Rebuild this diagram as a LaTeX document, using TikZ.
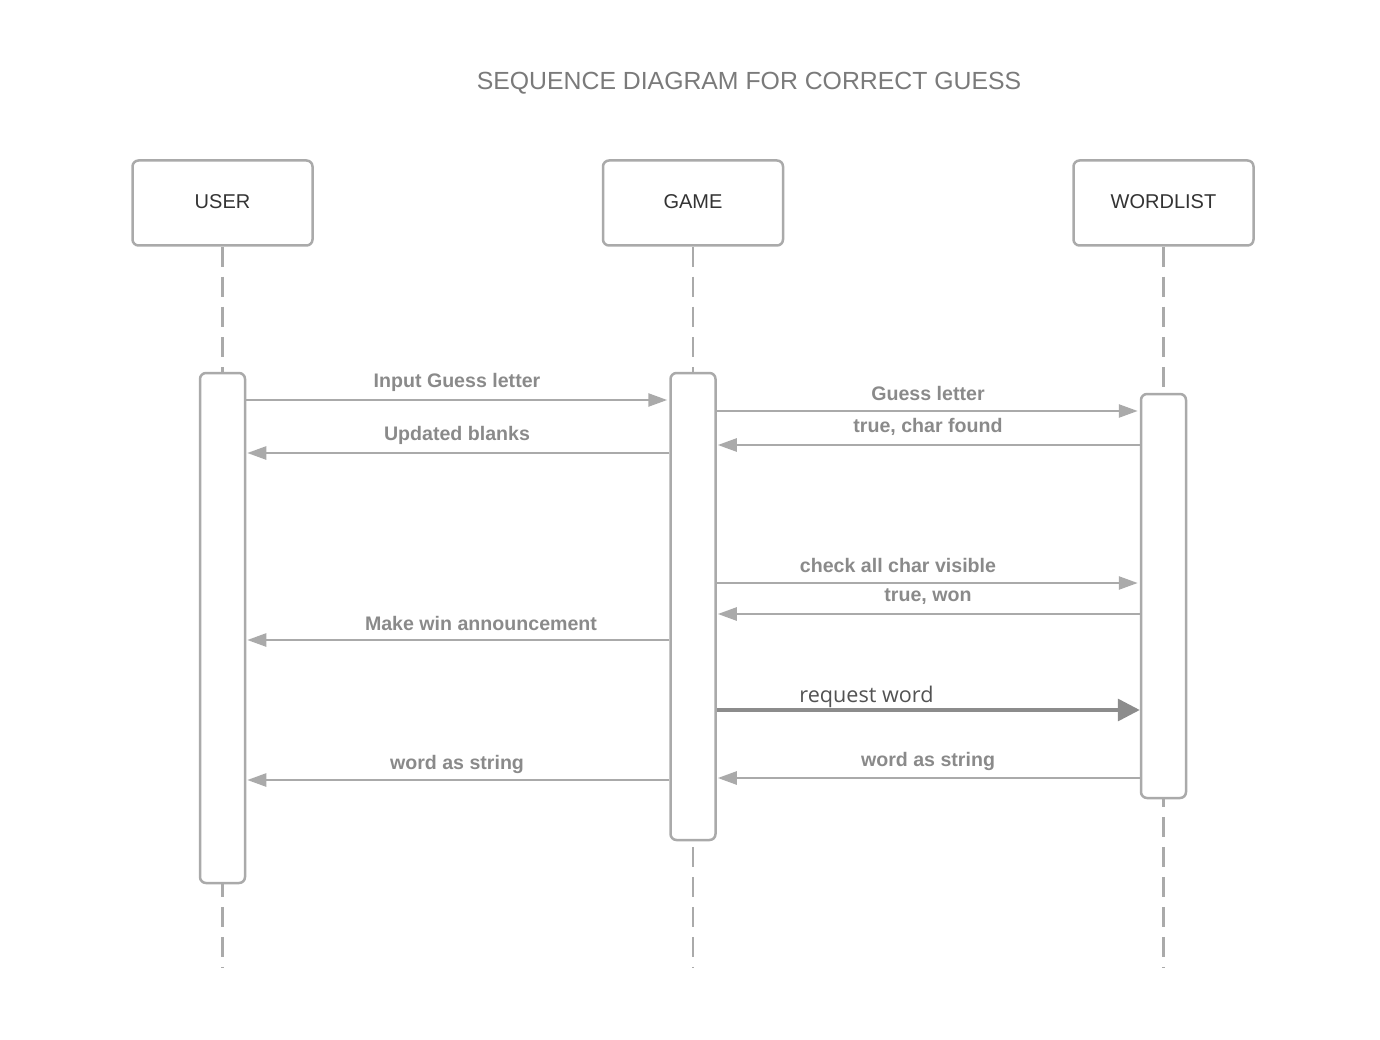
\documentclass[tikz,border=0pt]{standalone}
\usepackage{fontspec}
\setmainfont{Liberation Sans}
\newfontfamily\opensans{Open Sans}
\usetikzlibrary{arrows.meta}
\definecolor{linegray}{HTML}{AAAAAA}
\definecolor{labelgray}{HTML}{8A8A8A}
\definecolor{titlegray}{HTML}{7A7A7A}
\definecolor{textdark}{HTML}{333333}
\definecolor{reqgray}{HTML}{8C8C8C}
\tikzset{
  header/.style={draw=linegray, line width=2.5pt, rounded corners=6pt, fill=white,
    minimum width=180pt, minimum height=85pt, inner sep=0pt,
    text=textdark, font=\fontsize{20}{22}\selectfont},
  actbar/.style={draw=linegray, line width=2.5pt, rounded corners=6pt, fill=white,
    minimum width=45pt, inner sep=0pt},
  lifeline/.style={draw=linegray, line width=2.5pt, dash pattern=on 20pt off 10pt},
  msg/.style={draw=linegray, line width=2.5pt,
    -{Triangle[length=19pt, width=13pt, fill=linegray]}},
  reqmsg/.style={draw=reqgray, line width=3.5pt,
    -{Triangle[length=22pt, width=22pt, fill=reqgray]}},
  msglabel/.style={text=labelgray, inner sep=0pt, font=\bfseries\fontsize{19.6}{21}\selectfont},
}
\begin{document}
\begin{tikzpicture}[x=1pt, y=-1pt]
\useasboundingbox (0,0) rectangle (1380,1040);

% title
\node[text=titlegray, font=\fontsize{24.8}{28}\selectfont] (title) at (749,83) {SEQUENCE DIAGRAM FOR CORRECT GUESS};

% participants
\node[header] (user) at (222.5,203) {\raisebox{2pt}{USER}};
\node[header] (game) at (693,203) {\raisebox{2pt}{GAME}};
\node[header] (wlist) at (1163.5,203) {\raisebox{2pt}{WORDLIST}};

% lifeline ends
\coordinate (uend) at (222.5,968);
\coordinate (gend) at (693,968);
\coordinate (wend) at (1163.5,968);
\draw[lifeline] (user.south) -- (uend);
\draw[lifeline] (game.south) -- (gend);
\draw[lifeline] (wlist.south) -- (wend);

% activation bars
\node[actbar, minimum height=510pt] (ubar) at (222.5,628) {};
\node[actbar, minimum height=467pt] (gbar) at (693,606.5) {};
\node[actbar, minimum height=404pt] (wbar) at (1163.5,596) {};

% message heights
\coordinate (m1) at (0,400);
\coordinate (m2) at (0,453);
\coordinate (m3) at (0,411);
\coordinate (m4) at (0,445);
\coordinate (m5) at (0,583);
\coordinate (m6) at (0,614);
\coordinate (m7) at (0,640);
\coordinate (m8) at (0,710);
\coordinate (m9) at (0,778);
\coordinate (m10) at (0,780);

% messages
\draw[msg] (ubar.east |- m1) -- ([xshift=-2pt]gbar.west |- m1);
\node[msglabel] (l1) at (457,382) {Input Guess letter};

\draw[msg] (gbar.west |- m2) -- ([xshift=1pt]ubar.east |- m2);
\node[msglabel] (l2) at (457,435) {Updated blanks};

\draw[msg] (gbar.east |- m3) -- ([xshift=-2pt]wbar.west |- m3);
\node[msglabel] (l3) at (928,393) {Guess letter};

\draw[msg] (wbar.west |- m4) -- ([xshift=1pt]gbar.east |- m4);
\node[msglabel] (l4) at (928,427) {true, char found};

\draw[msg] (gbar.east |- m5) -- ([xshift=-2pt]wbar.west |- m5);
\node[msglabel] (l5) at (898,565) {check all char visible};

\draw[msg] (wbar.west |- m6) -- ([xshift=1pt]gbar.east |- m6);
\node[msglabel] (l6) at (928,597) {true, won};

\draw[msg] (gbar.west |- m7) -- ([xshift=1pt]ubar.east |- m7);
\node[msglabel] (l7) at (481,623) {Make win announcement};

\draw[reqmsg] (gbar.east |- m8) -- (wbar.west |- m8);
\node[text=textdark!85, inner sep=0pt, font=\opensans\fontsize{21.6}{24}\selectfont] (l8) at (866.5,697) {request word};

\draw[msg] (wbar.west |- m9) -- ([xshift=1pt]gbar.east |- m9);
\node[msglabel] (l9) at (928,761) {word as string};

\draw[msg] (gbar.west |- m10) -- ([xshift=1pt]ubar.east |- m10);
\node[msglabel] (l10) at (457,764) {word as string};
\end{tikzpicture}
\end{document}
